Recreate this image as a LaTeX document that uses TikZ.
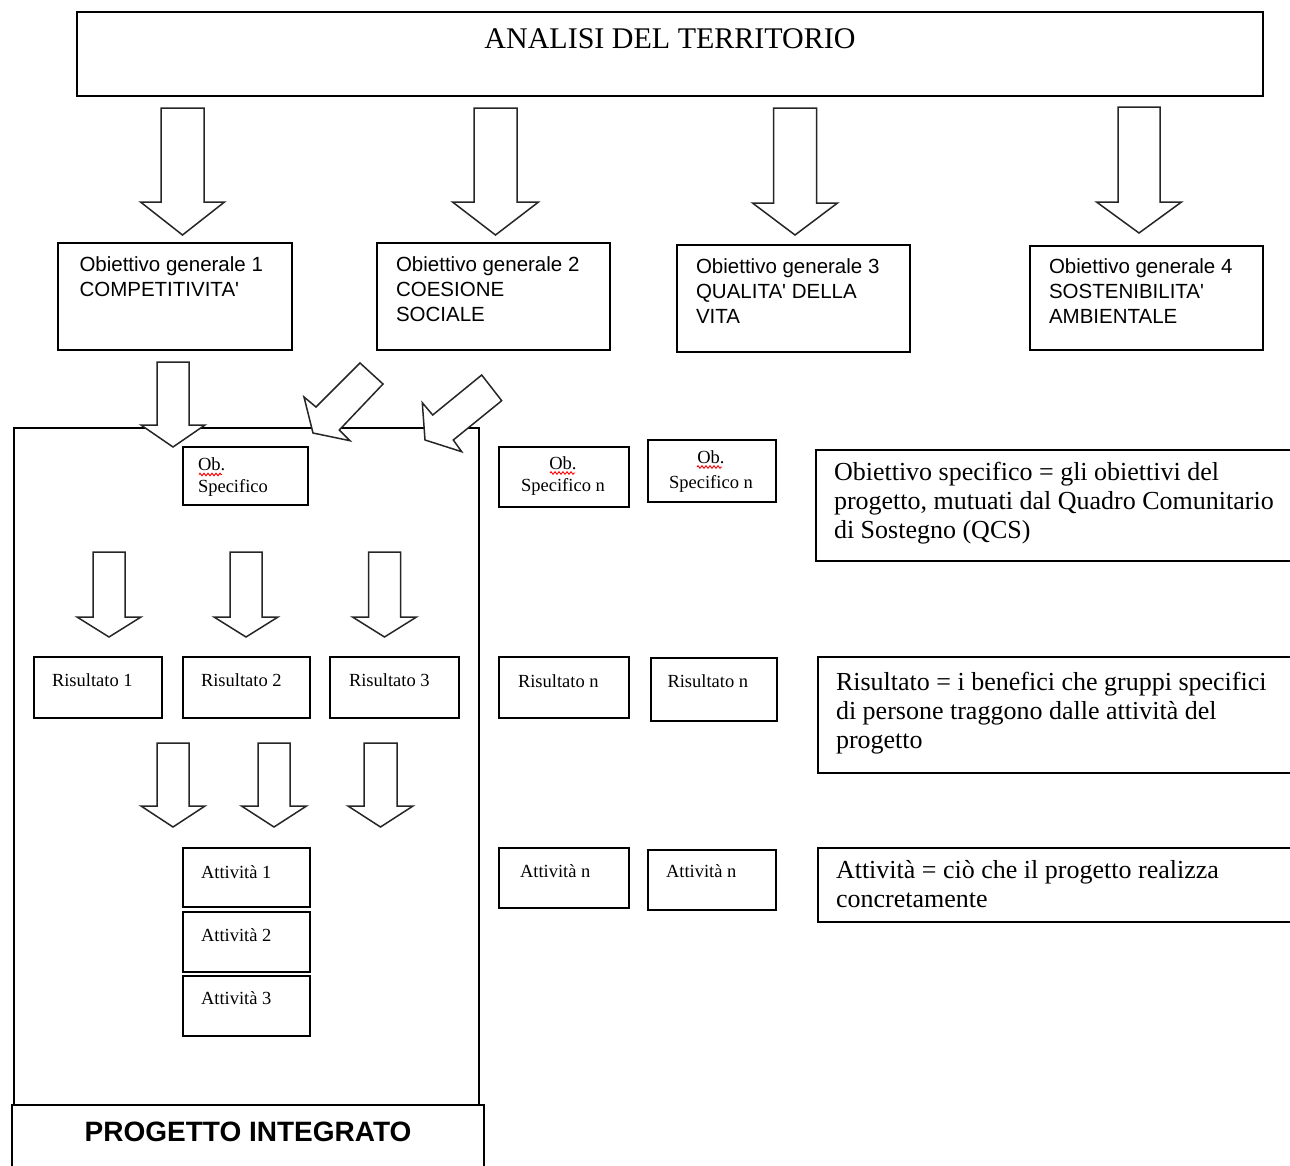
\documentclass[tikz,border=0pt]{standalone}
\usepackage{fontspec}
\setmainfont{Liberation Serif}
\newfontfamily\arialf{Liberation Sans}
\usetikzlibrary{decorations.pathmorphing}
\newcommand\blkdown[6]{% cx, top, head start, tip, shaft half, head half
  \draw[barrow] ({#1-#5},#2) -- ({#1-#5},#3) -- ({#1-#6},#3) -- (#1,#4) --
    ({#1+#6},#3) -- ({#1+#5},#3) -- ({#1+#5},#2) -- cycle;}
\begin{document}
\begin{tikzpicture}[x=1pt,y=-1pt,
  box/.style={draw=black,line width=1.6,inner sep=0pt,outer sep=0pt,anchor=north west,fill=white},
  barrow/.style={draw=black!85,line width=1.5,fill=white,line join=miter},
  txt/.style={inner sep=0pt,outer sep=0pt,anchor=base west,align=left},
  ctxt/.style={inner sep=0pt,outer sep=0pt,anchor=base,align=center},
  gfont/.style={font=\arialf\fontsize{20.5}{25}\selectfont},
  sfont/.style={font=\fontsize{18.5}{22}\selectfont},
  dfont/.style={font=\fontsize{26}{29}\selectfont},
  squig/.style={draw=red,line width=0.9,decorate,decoration={zigzag,segment length=4,amplitude=1.3}}
]
\useasboundingbox (0,0) rectangle (1290,1165);
\clip (0,0) rectangle (1290,1165);
\fill[white] (0,0) rectangle (1290,1165);

% top box
\node[box,minimum width=1186,minimum height=84] (terr) at (77,12) {};
\node[ctxt,font=\fontsize{30}{36}\selectfont] (terrt) at (670,48) {ANALISI DEL TERRITORIO};

% arrows row 1
\blkdown{182.5}{108}{202}{235}{21.5}{42}
\blkdown{495.5}{108}{202}{235}{21.5}{43}
\blkdown{795}{108}{203}{235}{21.5}{42.5}
\blkdown{1139}{107}{202}{233}{21}{42.5}

% general objectives (base anchor = last line baseline)
\node[box,minimum width=234,minimum height=107] (og1) at (58,243) {};
\node[box,minimum width=233,minimum height=107] (og2) at (377,243) {};
\node[box,minimum width=233,minimum height=107] (og3) at (677,245) {};
\node[box,minimum width=233,minimum height=104] (og4) at (1030,246) {};
\node[txt,gfont] (og1t) at (79.5,296) {Obiettivo generale 1\\COMPETITIVITA\textquotesingle};
\node[txt,gfont] (og2t) at (396,321) {Obiettivo generale 2\\COESIONE\\SOCIALE};
\node[txt,gfont] (og3t) at (696,323) {Obiettivo generale 3\\QUALITA\textquotesingle{} DELLA\\VITA};
\node[txt,gfont] (og4t) at (1049,323) {Obiettivo generale 4\\SOSTENIBILITA\textquotesingle\\AMBIENTALE};

% container and label box
\node[box,minimum width=465,minimum height=677] (cont) at (14,428) {};
\node[box,minimum width=472,minimum height=100] (proj) at (12,1105) {};
\node[ctxt,font=\arialf\bfseries\fontsize{28}{32}\selectfont] (projt) at (248,1141) {PROGETTO INTEGRATO};

% arrows into the container
\blkdown{173}{362}{425}{447}{16}{32}
\draw[barrow] (360,363) -- (383,384) -- (339.3,430) -- (350,440.7) -- (313,433) -- (304,397) -- (316,407) -- cycle;
\draw[barrow] (481.7,375) -- (501.7,400.7) -- (453.3,440) -- (461.7,451.7) -- (425,440) -- (422.3,402.7) -- (432.7,415) -- cycle;

% specific objective
\node[box,minimum width=125,minimum height=58] (obs) at (183,447) {};
\node[txt,sfont] (obst) at (198,492) {Ob.\\Specifico};
\draw[squig] (199,474.5) -- (222,474.5);

\node[box,minimum width=130,minimum height=60] (obs1) at (499,447) {};
\node[ctxt,sfont] (obs1t) at (563,491) {Ob.\\Specifico n};
\draw[squig] (550,473) -- (575,473);
\node[box,minimum width=128,minimum height=62] (obs2) at (648,440) {};
\node[ctxt,font=\fontsize{18.5}{25}\selectfont] (obs2t) at (711,488) {Ob.\\Specifico n};
\draw[squig] (697,467) -- (722,467);

% arrows row 2
\blkdown{109}{552}{617}{637}{16}{32}
\blkdown{246}{552}{617}{637}{16}{32}
\blkdown{384.5}{552}{617}{637}{16}{32}

% results
\node[box,minimum width=128,minimum height=61] (r1) at (34,657) {};
\node[box,minimum width=127,minimum height=61] (r2) at (183,657) {};
\node[box,minimum width=129,minimum height=61] (r3) at (330,657) {};
\node[txt,sfont] (r1t) at (52,686) {Risultato 1};
\node[txt,sfont] (r2t) at (201,686) {Risultato 2};
\node[txt,sfont] (r3t) at (349,686) {Risultato 3};
\node[box,minimum width=130,minimum height=61] (rn1) at (499,657) {};
\node[box,minimum width=126,minimum height=63] (rn2) at (651,658) {};
\node[txt,sfont] (rn1t) at (518,687) {Risultato n};
\node[txt,sfont] (rn2t) at (667.5,687) {Risultato n};

% arrows row 3
\blkdown{173}{743}{806}{827}{16}{32}
\blkdown{274}{743}{806}{827}{16}{32.5}
\blkdown{380.5}{743}{806}{827}{16.5}{32.5}

% activities
\node[box,minimum width=127,minimum height=59] (a1) at (183,848) {};
\node[box,minimum width=127,minimum height=60] (a2) at (183,912) {};
\node[box,minimum width=127,minimum height=60] (a3) at (183,976) {};
\node[txt,sfont] (a1t) at (201,878) {Attività 1};
\node[txt,sfont] (a2t) at (201,941) {Attività 2};
\node[txt,sfont] (a3t) at (201,1004) {Attività 3};
\node[box,minimum width=130,minimum height=60] (an1) at (499,848) {};
\node[box,minimum width=128,minimum height=60] (an2) at (648,850) {};
\node[txt,sfont] (an1t) at (520,877) {Attività n};
\node[txt,sfont] (an2t) at (666,877) {Attività n};

% descriptions
\node[box,minimum width=500,minimum height=111] (d1) at (816,450) {};
\node[txt,dfont] (d1t) at (834,538) {Obiettivo specifico = gli obiettivi del\\progetto, mutuati dal Quadro Comunitario\\di Sostegno (QCS)};
\node[box,minimum width=500,minimum height=116] (d2) at (818,657) {};
\node[txt,dfont] (d2t) at (836,748) {Risultato = i benefici che gruppi specifici\\di persone traggono dalle attività del\\progetto};
\node[box,minimum width=500,minimum height=74] (d3) at (818,848) {};
\node[txt,dfont] (d3t) at (836,907) {Attività = ciò che il progetto realizza\\concretamente};
\end{tikzpicture}
\end{document}
